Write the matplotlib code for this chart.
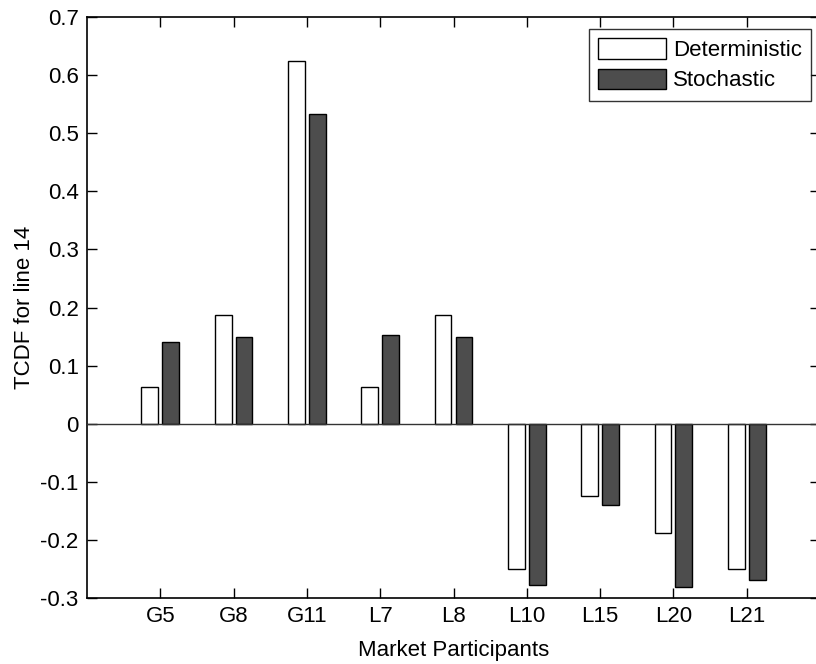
import matplotlib
matplotlib.use('Agg')
import matplotlib.pyplot as plt
import numpy as np

plt.rcParams['font.family'] = ['Liberation Sans', 'DejaVu Sans']

participants = ['G5', 'G8', 'G11', 'L7', 'L8', 'L10', 'L15', 'L20', 'L21']
deterministic = [0.0625, 0.1875, 0.625, 0.0625, 0.1875, -0.25, -0.125, -0.1875, -0.25]
stochastic = [0.14, 0.149, 0.533, 0.152, 0.149, -0.277, -0.14, -0.281, -0.269]

fig = plt.figure(figsize=(8.16, 6.64), dpi=100)
ax = fig.add_axes([87 / 816, 1 - 598 / 664, 733 / 816, 581 / 664])

x = np.arange(1, len(participants) + 1)
w = 0.229
ax.bar(x - 0.143, deterministic, w, color='white', edgecolor='black', lw=1.0,
       label='Deterministic', zorder=2)
ax.bar(x + 0.143, stochastic, w, color='#4d4d4d', edgecolor='black', lw=1.0,
       label='Stochastic', zorder=2)
ax.axhline(0, color='#333333', lw=1.0, zorder=3)

ax.set_xlim(0, 10)
ax.set_ylim(-0.3, 0.7)
ax.set_xticks(x)
ax.set_xticklabels(participants)
ax.set_yticks(np.arange(-0.3, 0.71, 0.1))
ax.set_yticklabels(['-0.3', '-0.2', '-0.1', '0', '0.1', '0.2', '0.3', '0.4', '0.5', '0.6', '0.7'])
ax.tick_params(direction='in', length=7, width=1, top=True, right=True, labelsize=16, pad=6)
for s in ax.spines.values():
    s.set_linewidth(1.2)

ax.set_xlabel('Market Participants', fontsize=16, labelpad=9)
ax.set_ylabel('TCDF for line 14', fontsize=16, labelpad=4)

leg = ax.legend(loc='upper right', bbox_to_anchor=(724 / 733, 1 - 12 / 581),
                fontsize=16, frameon=True, fancybox=False, edgecolor='black',
                handlelength=3.05, handleheight=1.05, borderpad=0.42, labelspacing=0.33,
                handletextpad=0.3, borderaxespad=0)
leg.get_frame().set_linewidth(1.0)

fig.savefig('out.png', dpi=100)
